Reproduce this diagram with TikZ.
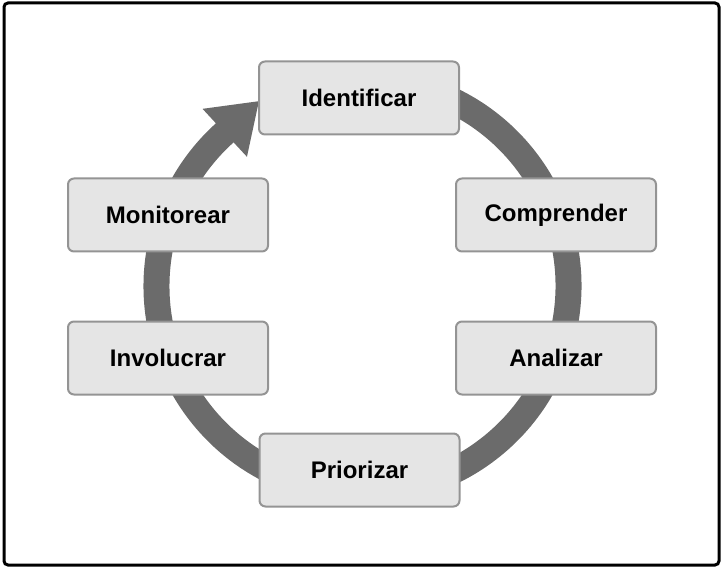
\documentclass[tikz,border=0pt]{standalone}
\usepackage{fontspec}
\setmainfont{Liberation Sans}
\usetikzlibrary{arrows.meta,backgrounds}
\tikzset{
  stepbox/.style={draw=black!42, line width=2pt, fill=black!10, rounded corners=6pt,
    minimum width=200pt, minimum height=73pt, inner sep=0pt,
    font=\bfseries\fontsize{24}{28}\selectfont},
  ring/.style={draw=black!58, line width=26pt},
}
\begin{document}
\begin{tikzpicture}[x=1pt,y=1pt]
  \useasboundingbox (0,0) rectangle (722,568);
  % frame
  \draw[line width=3pt, rounded corners=4pt] (4,3) rectangle (719,565);
  % center of the cycle
  \coordinate (c) at (362.5,282);
  % steps
  \node[stepbox] (ident) at (359,470) {Identificar};
  \node[stepbox] (compr) at (556,353) {Comprender};
  \node[stepbox] (anal) at (556,210) {Analizar};
  \node[stepbox] (prior) at (359.5,98) {Priorizar};
  \node[stepbox] (invol) at (168,210) {Involucrar};
  \node[stepbox] (monit) at (168,353) {Monitorear};
  % cycle arrow
  \begin{scope}[on background layer]
    \draw[ring, -{Triangle[length=47pt,width=62pt]}]
      ([shift={(80:206)}]c) arc[start angle=80, end angle=-227.2, radius=206]
      -- ++(42.8:50);
  \end{scope}
\end{tikzpicture}
\end{document}
